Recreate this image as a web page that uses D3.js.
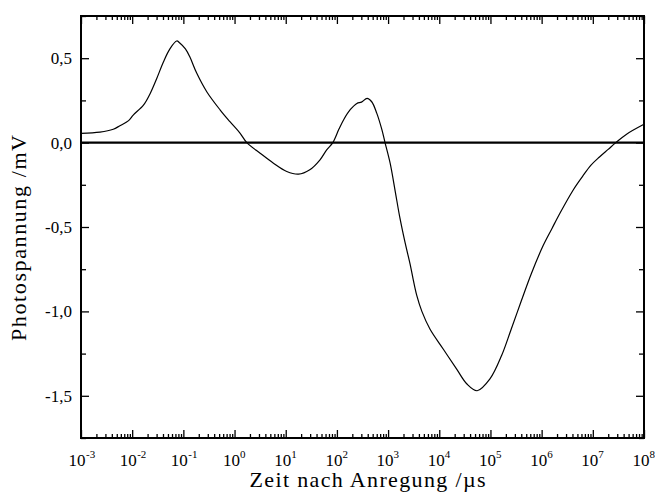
<!DOCTYPE html>
<html>
<head>
<meta charset="utf-8">
<script src="https://cdn.jsdelivr.net/npm/d3@7"></script>
<style>
  body { margin: 0; background: #fff; }
  svg { display: block; }
  svg text { font-family: "Liberation Serif", Times, "Times New Roman", "DejaVu Serif", serif; }
</style>
</head>
<body>
<svg id="chart"></svg>
<script>
// time after excitation, given as log10(t / µs)
const logTime = [-3.00, -2.63, -2.37, -2.24, -2.07, -1.98, -1.78, -1.65, -1.52, -1.39,
  -1.26, -1.13, -1.07, -0.96, -0.87, -0.74, -0.54, -0.28, -0.09, 0.11,
  0.24, 0.50, 0.76, 1.02, 1.25, 1.47, 1.67, 1.80, 1.92, 2.04,
  2.14, 2.26, 2.39, 2.48, 2.59, 2.68, 2.78, 2.88, 2.94, 3.04,
  3.14, 3.23, 3.33, 3.43, 3.49, 3.56, 3.66, 3.82, 4.08, 4.34,
  4.54, 4.74, 4.99, 5.22, 5.40, 5.60, 5.80, 6.03, 6.20, 6.36,
  6.62, 6.80, 6.96, 7.13, 7.30, 7.45, 7.66, 7.99];
// photovoltage in mV
const voltage = [0.055, 0.062, 0.079, 0.100, 0.130, 0.163, 0.222, 0.290, 0.380, 0.478,
  0.557, 0.602, 0.590, 0.555, 0.505, 0.412, 0.300, 0.193, 0.124, 0.055,
  0.000, -0.063, -0.122, -0.171, -0.187, -0.161, -0.102, -0.043, 0.000, 0.080,
  0.140, 0.195, 0.232, 0.240, 0.262, 0.242, 0.173, 0.075, 0.000, -0.122,
  -0.290, -0.445, -0.590, -0.720, -0.810, -0.905, -1.000, -1.106, -1.224, -1.342,
  -1.430, -1.470, -1.400, -1.260, -1.110, -0.940, -0.775, -0.610, -0.510, -0.417,
  -0.279, -0.200, -0.135, -0.085, -0.040, 0.000, 0.050, 0.107];

const xDecades = [-3, -2, -1, 0, 1, 2, 3, 4, 5, 6, 7, 8];
const yMajor = [-1.5, -1.0, -0.5, 0.0, 0.5];
const yMinor = [-1.75, -1.25, -0.75, -0.25, 0.25, 0.75];

const width = 655;
const height = 495;
const margin = { top: 16, right: 11, bottom: 57, left: 81 };
const innerWidth = width - margin.left - margin.right;
const innerHeight = height - margin.top - margin.bottom;

const svg = d3.select('#chart')
  .attr('width', width)
  .attr('height', height);

const g = svg.append('g')
  .attr('transform', `translate(${margin.left}, ${margin.top})`);

const xScale = d3.scaleLog()
  .domain([1e-3, 1e8])
  .range([0, innerWidth]);

const yScale = d3.scaleLinear()
  .domain([-1.75, 0.75])
  .range([innerHeight, 0]);

const majorX = xDecades.map(k => Math.pow(10, k));
const minorX = [];
xDecades.slice(0, -1).forEach(k => {
  for (let j = 2; j <= 9; j++) minorX.push(j * Math.pow(10, k));
});

// ticks point inward on all four sides, labels drawn separately
function styleAxis(sel) {
  sel.select('.domain').remove();
  sel.selectAll('line').attr('stroke', '#000').attr('stroke-width', 1.3);
  sel.selectAll('text').remove();
}

g.append('g').attr('transform', `translate(0, ${innerHeight})`)
  .call(d3.axisBottom(xScale).tickValues(majorX).tickSize(-8)).call(styleAxis);
g.append('g').attr('transform', `translate(0, ${innerHeight})`)
  .call(d3.axisBottom(xScale).tickValues(minorX).tickSize(-4)).call(styleAxis);
g.append('g')
  .call(d3.axisTop(xScale).tickValues(majorX).tickSize(-8)).call(styleAxis);
g.append('g')
  .call(d3.axisTop(xScale).tickValues(minorX).tickSize(-4)).call(styleAxis);

g.append('g')
  .call(d3.axisLeft(yScale).tickValues(yMajor).tickSize(-8)).call(styleAxis);
g.append('g')
  .call(d3.axisLeft(yScale).tickValues(yMinor).tickSize(-5)).call(styleAxis);
g.append('g').attr('transform', `translate(${innerWidth}, 0)`)
  .call(d3.axisRight(yScale).tickValues(yMajor).tickSize(-8)).call(styleAxis);
g.append('g').attr('transform', `translate(${innerWidth}, 0)`)
  .call(d3.axisRight(yScale).tickValues(yMinor).tickSize(-5)).call(styleAxis);

// x tick labels 10^k : base and exponent as two texts
g.selectAll('.xbase')
  .data(xDecades)
  .enter()
  .append('text')
  .attr('class', 'xbase')
  .attr('x', d => xScale(Math.pow(10, d)) + (d < 0 ? -4 : -3))
  .attr('y', innerHeight + 28)
  .attr('text-anchor', 'middle')
  .style('font-size', '17px')
  .text('10');

g.selectAll('.xexp')
  .data(xDecades)
  .enter()
  .append('text')
  .attr('class', 'xexp')
  .attr('x', d => xScale(Math.pow(10, d)) + (d < 0 ? 5 : 5.5))
  .attr('y', innerHeight + 20)
  .attr('text-anchor', 'start')
  .style('font-size', '11px')
  .text(d => d < 0 ? '-' + Math.abs(d) : d);

// y tick labels with decimal comma
g.selectAll('.ylab')
  .data(yMajor)
  .enter()
  .append('text')
  .attr('x', -9)
  .attr('y', d => yScale(d))
  .attr('dy', '0.35em')
  .attr('text-anchor', 'end')
  .style('font-size', '17px')
  .text(d => (d < 0 ? '-' : '') + Math.abs(d).toFixed(1).replace('.', ','));

// zero line
g.append('line')
  .attr('x1', 0)
  .attr('x2', innerWidth)
  .attr('y1', yScale(0))
  .attr('y2', yScale(0))
  .attr('stroke', '#000')
  .attr('stroke-width', 2.2);

const points = logTime.map((l, i) => [Math.pow(10, l), voltage[i]]);

const line = d3.line()
  .x(d => xScale(d[0]))
  .y(d => yScale(d[1]))
  .curve(d3.curveCatmullRom.alpha(0.5));

g.append('path')
  .datum(points)
  .attr('fill', 'none')
  .attr('stroke', '#000')
  .attr('stroke-width', 1.2)
  .attr('d', line);

// frame
g.append('rect')
  .attr('width', innerWidth)
  .attr('height', innerHeight)
  .attr('fill', 'none')
  .attr('stroke', '#000')
  .attr('stroke-width', 2);

g.append('text')
  .attr('x', innerWidth / 2 + 5)
  .attr('y', innerHeight + 49)
  .attr('text-anchor', 'middle')
  .attr('textLength', 236)
  .attr('lengthAdjust', 'spacing')
  .style('font-size', '22px')
  .text('Zeit nach Anregung /µs');

g.append('text')
  .attr('transform', 'rotate(-90)')
  .attr('x', -(innerHeight / 2 + 11))
  .attr('y', -55)
  .attr('text-anchor', 'middle')
  .attr('textLength', 206)
  .attr('lengthAdjust', 'spacing')
  .style('font-size', '22px')
  .text('Photospannung /mV');
</script>
</body>
</html>
